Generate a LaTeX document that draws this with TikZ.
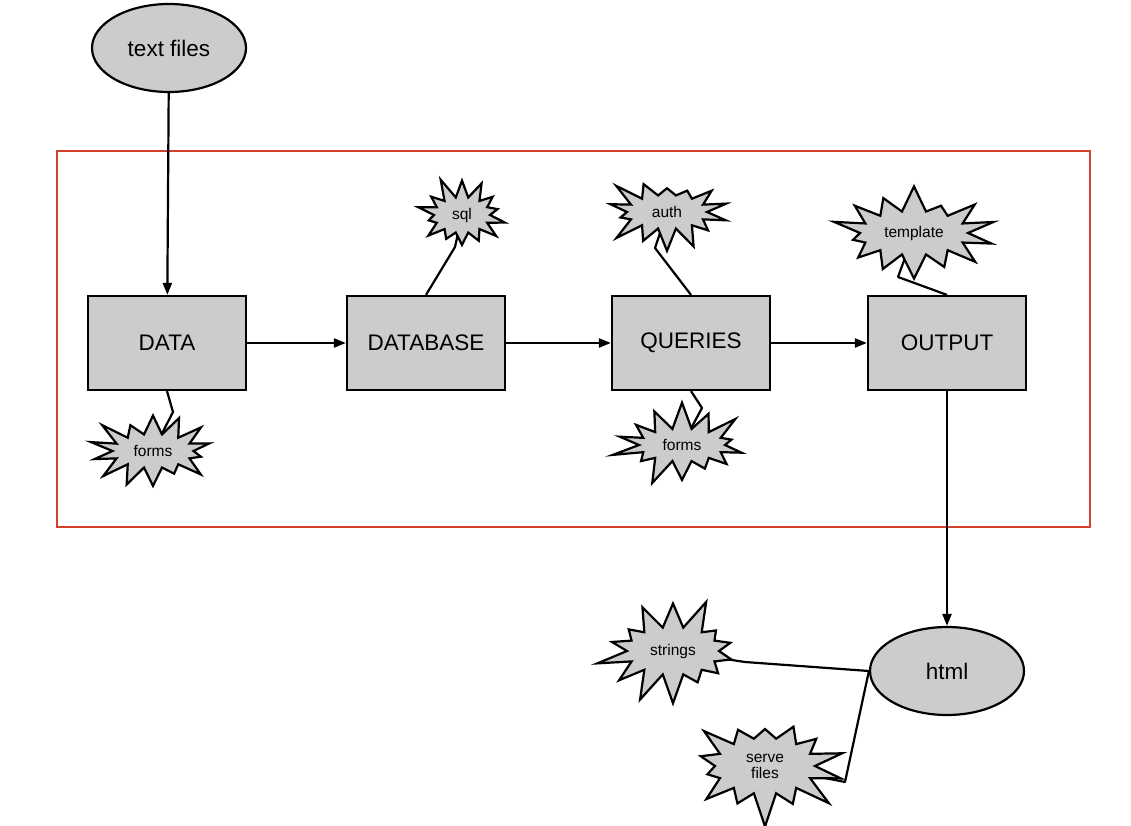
\documentclass[tikz,border=0pt]{standalone}
\usepackage{fontspec}
\setmainfont{Liberation Sans}
\usetikzlibrary{shapes.symbols,shapes.geometric,arrows.meta,backgrounds}
\definecolor{boxgray}{HTML}{CCCCCC}
\definecolor{framered}{HTML}{D2402E}
\begin{document}
\begin{tikzpicture}[x=1pt,y=-1pt,
  stepbox/.style={draw, fill=boxgray, line width=2.2pt, minimum width=158pt, minimum height=94pt, inner sep=0pt, font=\fontsize{22.5}{26}\selectfont},
  oval/.style={ellipse, draw, fill=boxgray, line width=2.2pt, minimum width=154pt, minimum height=88pt, inner sep=0pt, font=\fontsize{22.5}{26}\selectfont},
  burst/.style={starburst, draw, fill=boxgray, line width=2.2pt, starburst points=14, inner sep=0pt, align=center, font=\fontsize{15.5}{17}\selectfont},
  flow/.style={line width=2.2pt, -{Triangle[length=12pt,width=9pt]}},
  link/.style={line width=2.2pt, line join=round}]
\useasboundingbox (0,0) rectangle (1131,826);
\draw[framered, line width=1.8pt] (57,151) rectangle (1090,527);

\node[oval] (txt) at (169,48) {text files};
\node[stepbox] (data) at (167,343) {DATA};
\node[stepbox] (db) at (426,343) {DATABASE};
\node[stepbox] (qry) at (691,343) {QUERIES};
\node[stepbox] (out) at (947,343) {OUTPUT};
\node[oval] (html) at (947,671) {html};

\node[burst, minimum width=100pt, minimum height=80pt, starburst point height=22pt, random starburst=11] (sql) at (462,215) {sql};
\node[burst, minimum width=132pt, minimum height=86pt, starburst point height=26pt, random starburst=23] (auth) at (667,212) {auth};
\node[burst, minimum width=168pt, minimum height=104pt, starburst point height=30pt, random starburst=37] (tmpl) at (914,233) {template};
\node[burst, minimum width=137pt, minimum height=90pt, starburst point height=28pt, random starburst=41] (forma) at (153,451) {forms};
\node[burst, minimum width=142pt, minimum height=89pt, starburst point height=28pt, random starburst=53] (formb) at (682,445) {forms};
\node[burst, minimum width=156pt, minimum height=112pt, starburst point height=32pt, random starburst=67] (str) at (673,651) {strings};
\node[burst, minimum width=172pt, minimum height=128pt, starburst point height=36pt, random starburst=79] (srv) at (765,766) {serve\\[-1pt]files};

\coordinate (sqltip) at (455,247);
\coordinate (authtip) at (655,248);
\coordinate (tmpltip) at (898,277);
\coordinate (formatip) at (173,412);
\coordinate (formbtip) at (702,408);
\coordinate (strtip) at (745,662);
\coordinate (srvtip) at (845,782);

\draw[flow] (txt) -- (data);
\draw[flow] (data) -- (db);
\draw[flow] (db) -- (qry);
\draw[flow] (qry) -- (out);
\draw[flow] (out) -- (html);

\begin{scope}[on background layer]
\fill[white] (0,0) rectangle (1131,826);
\draw[link] (db.north) -- (sqltip) -- (sql.center);
\draw[link] (qry.north) -- (authtip) -- (auth.center);
\draw[link] (out.north) -- (tmpltip) -- (tmpl.center);
\draw[link] (data.south) -- (formatip) -- (forma.center);
\draw[link] (qry.south) -- (formbtip) -- (formb.center);
\draw[link] (html.west) -- (strtip) -- (str.center);
\draw[link] (html.west) -- (srvtip) -- (srv.center);
\end{scope}
\end{tikzpicture}
\end{document}
